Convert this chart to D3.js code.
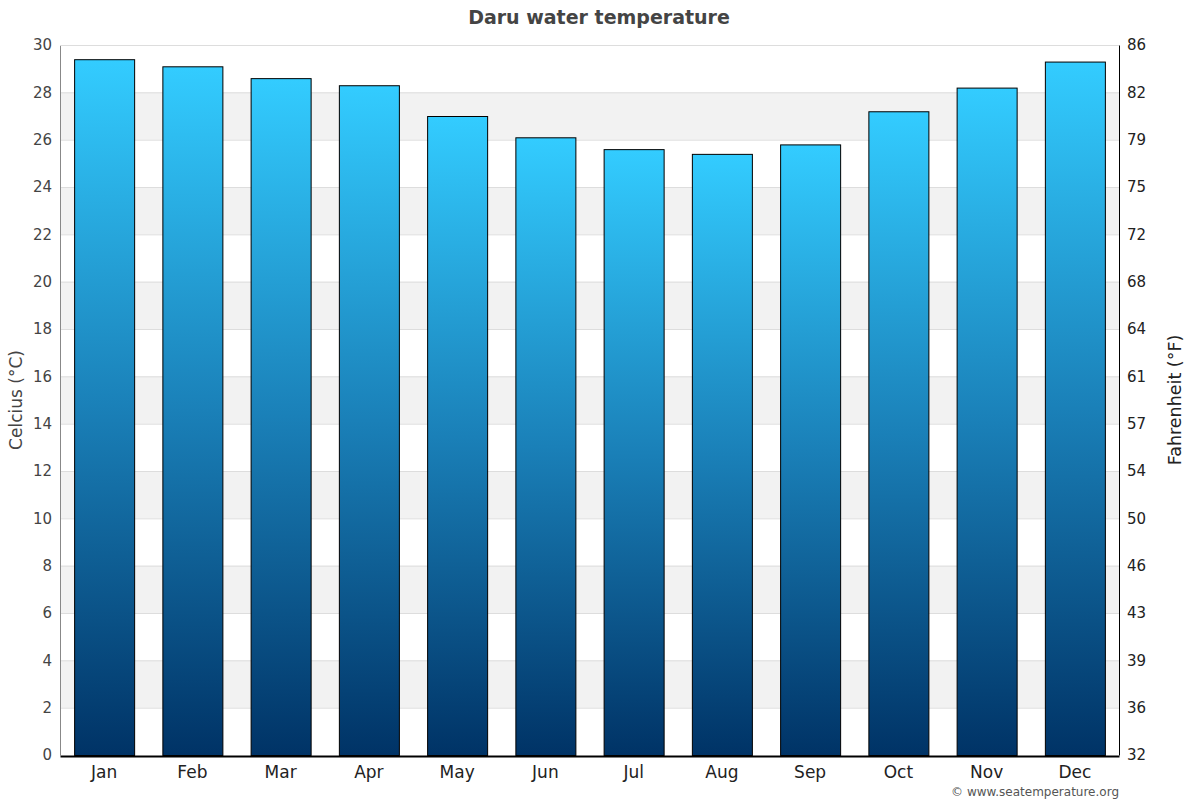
<!DOCTYPE html>
<html>
<head>
<meta charset="utf-8">
<script src="https://cdn.jsdelivr.net/npm/d3@7"></script>
<style>
body { margin: 0; background: #fff; font-family: "DejaVu Sans", sans-serif; }
</style>
</head>
<body>
<div class="chart"></div>
<script>
var months = ['Jan', 'Feb', 'Mar', 'Apr', 'May', 'Jun', 'Jul', 'Aug', 'Sep', 'Oct', 'Nov', 'Dec'];
var waterTemp = [29.4, 29.1, 28.6, 28.3, 27.0, 26.1, 25.6, 25.4, 25.8, 27.2, 28.2, 29.3];
var celsiusTicks = [0, 2, 4, 6, 8, 10, 12, 14, 16, 18, 20, 22, 24, 26, 28, 30];

var margin = {top: 45, right: 81, bottom: 45, left: 60};
var width = 1200 - margin.left - margin.right;
var height = 800 - margin.top - margin.bottom;

var svg = d3.select('.chart').append('svg')
    .attr('width', 1200)
    .attr('height', 800);

var defs = svg.append('defs');
var grad = defs.append('linearGradient')
    .attr('id', 'barGrad')
    .attr('x1', 0).attr('y1', 0).attr('x2', 0).attr('y2', 1);
grad.append('stop').attr('offset', '0%').attr('stop-color', '#33ccff');
grad.append('stop').attr('offset', '50%').attr('stop-color', '#1a80b8');
grad.append('stop').attr('offset', '100%').attr('stop-color', '#003366');

var g = svg.append('g')
    .attr('transform', `translate(${margin.left},${margin.top})`);

var xScale = d3.scaleBand()
    .domain(months)
    .range([0, width])
    .paddingInner(0.32)
    .paddingOuter(0.16);

var yScale = d3.scaleLinear()
    .domain([0, 30])
    .range([height, 0]);

// alternating bands
var bands = celsiusTicks.filter(d => d % 4 === 2 && d < 30);
g.selectAll('.band')
    .data(bands)
    .enter().append('rect')
    .attr('class', 'band')
    .attr('x', 0)
    .attr('width', width)
    .attr('y', d => yScale(d + 2))
    .attr('height', d => yScale(d) - yScale(d + 2))
    .attr('fill', '#f2f2f2');

// grid lines
g.selectAll('.grid')
    .data(celsiusTicks.filter(d => d > 0))
    .enter().append('line')
    .attr('class', 'grid')
    .attr('x1', 0).attr('x2', width)
    .attr('y1', d => yScale(d) + 0.5).attr('y2', d => yScale(d) + 0.5)
    .attr('stroke', '#dddddd')
    .attr('stroke-width', 1);

// bars
g.selectAll('.bar')
    .data(waterTemp)
    .enter().append('rect')
    .attr('class', 'bar')
    .attr('x', (d, i) => xScale(months[i]) + 0.5)
    .attr('y', d => yScale(d) + 0.5)
    .attr('width', xScale.bandwidth())
    .attr('height', d => height - yScale(d))
    .attr('fill', 'url(#barGrad)')
    .attr('stroke', '#000')
    .attr('stroke-width', 1);

// left axis
var leftAxis = g.append('g')
    .call(d3.axisLeft(yScale).tickValues(celsiusTicks).tickSize(0).tickPadding(8));
leftAxis.select('.domain').attr('stroke', '#888');
leftAxis.selectAll('text')
    .attr('fill', '#444')
    .style('font-size', '15px')
    .style('font-family', '"DejaVu Sans", sans-serif');

// right axis, Fahrenheit labels for the same tick positions
var rightAxis = g.append('g')
    .attr('transform', `translate(${width},0)`)
    .call(d3.axisRight(yScale).tickValues(celsiusTicks).tickSize(0).tickPadding(8)
        .tickFormat(d => Math.round(d * 9 / 5 + 32)));
rightAxis.select('.domain').attr('stroke', '#000');
rightAxis.selectAll('text')
    .attr('fill', '#222')
    .style('font-size', '15px')
    .style('font-family', '"DejaVu Sans", sans-serif');

// bottom axis
var bottomAxis = g.append('g')
    .attr('transform', `translate(0,${height})`)
    .call(d3.axisBottom(xScale).tickSize(0).tickPadding(11));
bottomAxis.select('.domain').attr('stroke', '#000').attr('stroke-width', 2)
    .attr('transform', 'translate(0,1)');
bottomAxis.selectAll('text')
    .attr('fill', '#222')
    .style('font-size', '17px')
    .style('font-family', '"DejaVu Sans", sans-serif');

// top border
g.append('line')
    .attr('x1', 0).attr('x2', width)
    .attr('y1', 0.5).attr('y2', 0.5)
    .attr('stroke', '#dddddd');

// title
svg.append('text')
    .attr('x', 599)
    .attr('y', 24)
    .attr('text-anchor', 'middle')
    .attr('fill', '#444')
    .style('font-size', '19px')
    .style('font-weight', 'bold')
    .text('Daru water temperature');

// axis titles
svg.append('text')
    .attr('transform', `translate(22,${margin.top + height / 2}) rotate(-90)`)
    .attr('text-anchor', 'middle')
    .attr('fill', '#444')
    .style('font-size', '17px')
    .text('Celcius (°C)');

svg.append('text')
    .attr('transform', `translate(1181,${margin.top + height / 2}) rotate(-90)`)
    .attr('text-anchor', 'middle')
    .attr('fill', '#222')
    .style('font-size', '17.5px')
    .text('Fahrenheit (°F)');

// credit
svg.append('text')
    .attr('x', 1119)
    .attr('y', 796)
    .attr('text-anchor', 'end')
    .attr('fill', '#555')
    .style('font-size', '12px')
    .text('© www.seatemperature.org');
</script>
</body>
</html>
